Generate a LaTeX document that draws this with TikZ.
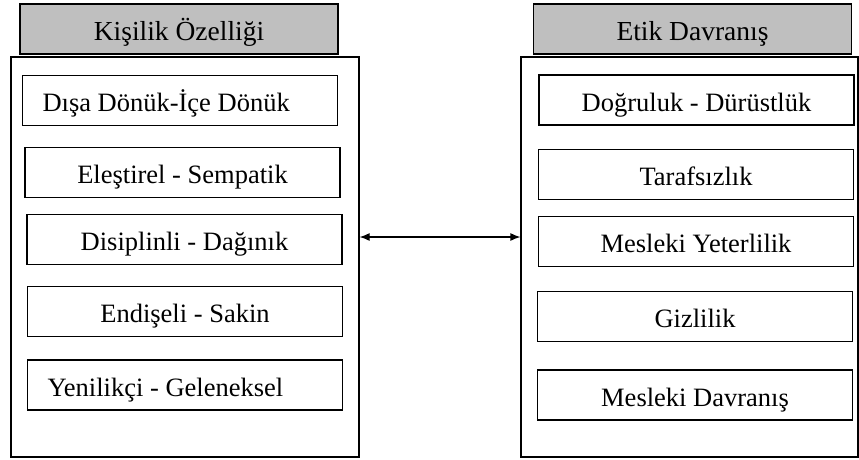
\documentclass[tikz,border=0pt]{standalone}
\usepackage{fontspec}
\setmainfont{Liberation Serif}
\usetikzlibrary{arrows.meta}
\begin{document}
\begin{tikzpicture}[x=1pt,y=-1pt,
    box/.style={draw,line width=1.4pt,minimum width=315pt,minimum height=50pt,text height=22pt,text depth=0pt,font=\fontsize{26.5}{30}\selectfont},
    leftbox/.style={box,inner xsep=20pt,text width=275pt,align=flush left},
    head/.style={box,fill=black!25,line width=1.6pt,minimum width=318pt,font=\fontsize{27.5}{30}\selectfont},
    frame/.style={draw,line width=1.2pt,minimum height=400pt}]
    \useasboundingbox (0,0) rectangle (859,459);
    \node[frame,minimum width=348pt] (kisilik) at (185,257) {};
    \node[frame,minimum width=337pt] (etik) at (689.5,257) {};
    \node[head] (kisilikbaslik) at (179,29) {Kişilik Özelliği};
    \node[head] (etikbaslik) at (692.5,29) {Etik Davranış};
    % kisilik ozellikleri
    \node[leftbox] (disa) at (180,100.5) {Dışa Dönük-İçe Dönük};
    \node[box] (elestirel) at (182.5,172.5) {Eleştirel - Sempatik};
    \node[box] (disiplinli) at (184.5,239.5) {Disiplinli - Dağınık};
    \node[box] (endiseli) at (185,311.5) {Endişeli - Sakin};
    \node[leftbox] (yenilikci) at (185,385) {Yenilikçi - Geleneksel};
    % etik davranis
    \node[box] (dogruluk) at (696.5,100) {Doğruluk - Dürüstlük};
    \node[box] (tarafsizlik) at (696,174.5) {Tarafsızlık};
    \node[box] (yeterlilik) at (696,241.5) {Mesleki Yeterlilik};
    \node[box] (gizlilik) at (695,316.5) {Gizlilik};
    \node[box] (davranis) at (695,395) {Mesleki Davranış};
    \coordinate (orta) at (440,237);
    \draw[{Latex[length=10pt,width=8pt]}-{Latex[length=10pt,width=8pt]},line width=1.2pt] (orta -| kisilik.east) -- (orta -| etik.west);
\end{tikzpicture}
\end{document}
